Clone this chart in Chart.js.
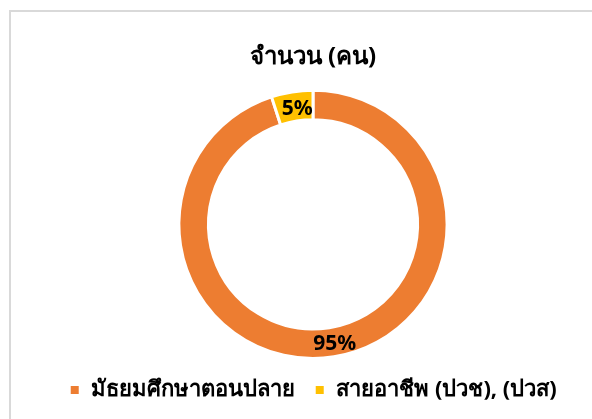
<!DOCTYPE html>
<html>
<head>
<meta charset="utf-8">
<script src="https://cdn.jsdelivr.net/npm/chart.js@4"></script>
<style>
  html, body { margin: 0; padding: 0; background: #fff; overflow: hidden; }
  #wrap { position: relative; width: 592px; height: 419px; }
  #frame { position: absolute; left: 9px; top: 10px; width: 620px; height: 440px; border: 2px solid #d9d9d9; box-sizing: border-box; }
  canvas { position: absolute; left: 0; top: 0; }
</style>
</head>
<body>
<div id="wrap">
  <div id="frame"></div>
  <canvas id="pieChart" width="592" height="419"></canvas>
</div>
<script>
// categories and values (percent of students)
const categories = ['มัธยมศึกษาตอนปลาย', 'สายอาชีพ (ปวช), (ปวส)'];
const counts = [95, 5];
const sliceColors = ['#ED7D31', '#FFC000'];

const fontFamily = "Tahoma, 'Noto Sans', 'DejaVu Sans', sans-serif";

// draw the percentage in the middle of every slice
const percentLabels = {
    id: 'percentLabels',
    afterDatasetsDraw(chart) {
        const ctx = chart.ctx;
        const meta = chart.getDatasetMeta(0);
        const total = counts.reduce((a, b) => a + b, 0);
        ctx.save();
        ctx.font = "bold 21px " + fontFamily;
        ctx.fillStyle = '#000';
        ctx.textAlign = 'center';
        ctx.textBaseline = 'middle';
        meta.data.forEach((arc, i) => {
            const pos = arc.tooltipPosition();
            const pct = Math.round(counts[i] / total * 100) + '%';
            ctx.fillText(pct, pos.x + 3, pos.y + 2);
        });
        ctx.restore();
    }
};

const ctx = document.getElementById('pieChart').getContext('2d');

const pieChart = new Chart(ctx, {
    type: 'doughnut',
    data: {
        labels: categories,
        datasets: [{
            data: counts,
            backgroundColor: sliceColors,
            borderColor: '#fff',
            borderWidth: 3
        }]
    },
    options: {
        responsive: false,
        animation: false,
        cutout: '78%',
        layout: { padding: { left: 40, right: 6, top: 43, bottom: 8 } },
        plugins: {
            title: {
                display: true,
                text: 'จำนวน (คน)',
                color: '#000',
                font: { family: fontFamily, size: 24, weight: 'bold' },
                padding: { top: 0, bottom: 17 }
            },
            legend: {
                position: 'bottom',
                labels: {
                    color: '#000',
                    font: { family: fontFamily, size: 22, weight: 'bold' },
                    boxWidth: 11,
                    boxHeight: 11,
                    padding: 19
                }
            },
            tooltip: { enabled: false }
        }
    },
    plugins: [percentLabels]
});
</script>
</body>
</html>
